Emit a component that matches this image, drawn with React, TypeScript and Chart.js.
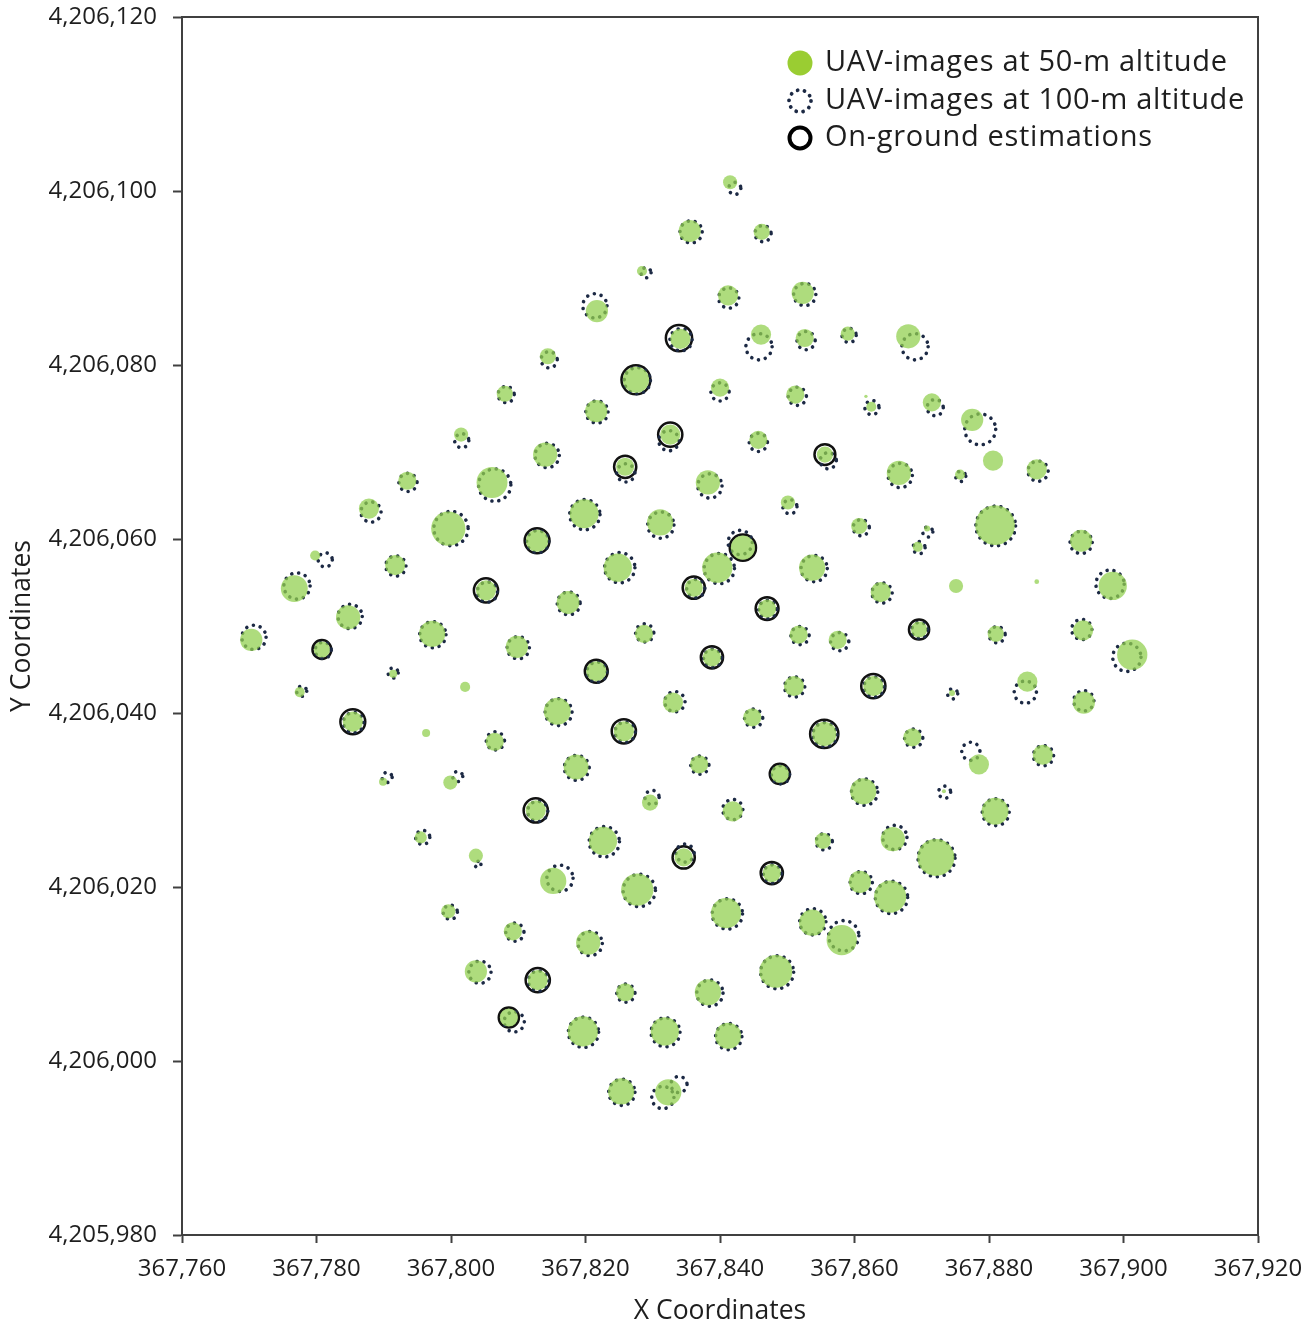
import { useEffect, useRef } from "react";
import { Chart, registerables } from "chart.js";

Chart.register(...registerables);

// Axis ranges and tick spacing
const xRange = [367760, 367920];
const yRange = [4205980, 4206120];
const tickStep = 20;

const seriesNames = [
  "UAV-images at 50-m altitude",
  "UAV-images at 100-m altitude",
  "On-ground estimations",
];

// Crown centres (UTM metres) and crown diameters (m), UAV flight at 50 m
const uav50X = [
  367841.5, 367835.5, 367846.2, 367828.4, 367821.7, 367841.2, 367852.3, 367834.1, 367846.1, 367852.6,
  367859.0, 367868.0, 367814.4, 367827.5, 367808.0, 367840.0, 367851.2, 367861.7, 367862.5, 367871.5,
  367877.5, 367821.6, 367832.6, 367845.7, 367801.5, 367814.0, 367825.9, 367855.6, 367880.6, 367866.6,
  367793.5, 367875.7, 367887.1, 367838.2, 367806.1, 367787.8, 367799.6, 367819.8, 367831.1, 367812.8,
  367824.8, 367779.8, 367791.7, 367776.7, 367805.2, 367817.4, 367836.1, 367784.7, 367770.3, 367797.2,
  367828.7, 367850.1, 367860.7, 367870.8, 367869.4, 367880.9, 367893.7, 367843.4, 367839.6, 367853.7,
  367863.9, 367875.1, 367887.1, 367898.4, 367847.0, 367869.6, 367851.7, 367857.5, 367881.0, 367894.0,
  367780.8, 367809.8, 367791.4, 367777.5, 367802.1, 367821.6, 367785.4, 367796.3, 367815.8, 367806.5,
  367825.7, 367833.0, 367818.6, 367836.9, 367789.9, 367799.9, 367812.6, 367829.6, 367795.5, 367822.6,
  367834.6, 367803.7, 367815.2, 367827.7, 367799.6, 367809.2, 367820.4, 367825.9, 367803.7, 367812.9,
  367838.2, 367808.6, 367819.6, 367831.8, 367825.3, 367832.3, 367901.3, 367838.8, 367851.0, 367862.8,
  367874.5, 367885.7, 367894.1, 367844.8, 367855.5, 367868.6, 367878.5, 367888.0, 367848.9, 367861.3,
  367873.3, 367880.9, 367841.9, 367855.3, 367865.7, 367872.1, 367847.7, 367860.8, 367865.3, 367840.9,
  367853.7, 367858.1, 367848.3, 367841.2,
];
const uav50Y = [
  4206101.0, 4206095.4, 4206095.3, 4206090.8, 4206086.2, 4206088.0, 4206088.3, 4206083.0, 4206083.5, 4206083.1,
  4206083.6, 4206083.3, 4206081.0, 4206078.3, 4206076.7, 4206077.4, 4206076.6, 4206076.4, 4206075.2, 4206075.7,
  4206073.7, 4206074.7, 4206072.0, 4206071.4, 4206072.0, 4206069.7, 4206068.3, 4206069.7, 4206069.0, 4206067.6,
  4206066.7, 4206067.4, 4206068.0, 4206066.5, 4206066.5, 4206063.5, 4206061.2, 4206062.9, 4206061.9, 4206059.8,
  4206056.7, 4206058.1, 4206057.0, 4206054.3, 4206054.1, 4206052.7, 4206054.4, 4206051.0, 4206048.4, 4206049.1,
  4206049.1, 4206064.2, 4206061.5, 4206061.2, 4206059.1, 4206061.6, 4206059.8, 4206059.0, 4206056.7, 4206056.7,
  4206053.9, 4206054.6, 4206055.1, 4206054.6, 4206052.0, 4206049.6, 4206049.0, 4206048.4, 4206049.1, 4206049.5,
  4206047.3, 4206047.6, 4206044.5, 4206042.4, 4206043.0, 4206044.8, 4206039.0, 4206037.7, 4206040.2, 4206036.7,
  4206037.9, 4206041.2, 4206033.8, 4206034.1, 4206032.1, 4206032.0, 4206028.8, 4206029.7, 4206025.7, 4206025.3,
  4206023.4, 4206023.6, 4206020.7, 4206019.7, 4206017.2, 4206014.9, 4206013.6, 4206007.9, 4206010.3, 4206009.3,
  4206007.9, 4206005.0, 4206003.4, 4206003.4, 4205996.5, 4205996.4, 4206046.7, 4206046.4, 4206043.1, 4206043.1,
  4206042.3, 4206043.6, 4206041.2, 4206039.5, 4206037.6, 4206037.2, 4206034.1, 4206035.2, 4206033.0, 4206031.0,
  4206031.0, 4206028.7, 4206028.7, 4206025.3, 4206025.5, 4206023.4, 4206021.6, 4206020.6, 4206018.9, 4206017.0,
  4206015.9, 4206013.9, 4206010.3, 4206002.9,
];
const uav50D = [
  2.1, 3.3, 2.4, 1.5, 3.3, 3.0, 3.3, 3.0, 3.0, 2.7,
  2.1, 3.6, 2.4, 3.9, 2.4, 2.7, 2.7, 0.5, 1.5, 2.7,
  3.3, 3.3, 3.0, 2.7, 2.1, 3.6, 2.7, 2.4, 3.0, 3.6,
  2.7, 1.5, 3.0, 3.6, 4.6, 3.0, 5.1, 4.3, 3.9, 3.3,
  4.2, 1.5, 3.0, 4.0, 3.0, 3.4, 2.7, 3.6, 3.3, 3.9,
  2.7, 2.1, 2.4, 0.9, 1.5, 5.9, 3.3, 3.6, 4.5, 3.9,
  3.0, 2.1, 0.7, 4.2, 2.7, 2.4, 2.7, 2.7, 2.4, 3.0,
  2.4, 3.3, 1.2, 1.5, 1.5, 3.0, 3.0, 1.2, 4.0, 2.7,
  3.0, 3.0, 3.7, 2.7, 1.2, 2.1, 3.0, 2.4, 1.8, 4.2,
  2.7, 2.1, 3.9, 4.8, 2.1, 2.7, 3.6, 2.7, 3.3, 3.0,
  3.9, 2.7, 4.5, 4.2, 3.9, 3.9, 4.5, 2.7, 3.0, 3.0,
  0.9, 3.0, 3.3, 2.7, 3.6, 2.7, 3.0, 3.0, 2.7, 3.9,
  0.6, 4.0, 3.0, 2.4, 3.6, 5.5, 2.7, 3.3, 4.8, 4.5,
  3.9, 4.5, 4.9, 3.9,
];

// Crown centres and diameters, UAV flight at 100 m
const uav100X = [
  367842.2, 367835.7, 367846.4, 367829.0, 367821.4, 367841.3, 367852.6, 367834.2, 367845.8, 367852.8,
  367859.2, 367869.0, 367814.6, 367827.7, 367808.2, 367840.0, 367851.5, 367862.6, 367872.0, 367878.7,
  367821.7, 367832.4, 367845.7, 367801.6, 367814.3, 367826.0, 367856.1, 367866.8, 367793.6, 367875.8,
  367887.3, 367838.5, 367806.5, 367788.1, 367800.0, 367819.9, 367831.2, 367812.9, 367825.1, 367781.3,
  367791.8, 367777.1, 367805.4, 367817.5, 367836.4, 367785.0, 367770.7, 367797.3, 367828.8, 367850.4,
  367861.0, 367870.9, 367869.6, 367881.0, 367893.7, 367843.0, 367839.9, 367854.0, 367864.1, 367898.0,
  367847.1, 367869.7, 367851.9, 367857.8, 367881.2, 367893.8, 367781.0, 367810.0, 367791.4, 367777.8,
  367821.7, 367785.5, 367816.0, 367806.6, 367825.9, 367833.3, 367818.7, 367837.0, 367790.5, 367801.0,
  367812.9, 367829.9, 367795.8, 367822.8, 367834.8, 367804.0, 367816.2, 367828.0, 367799.9, 367809.5,
  367820.7, 367826.0, 367804.3, 367813.0, 367838.5, 367809.4, 367819.7, 367831.9, 367825.4, 367831.5,
  367833.9, 367900.5, 367838.9, 367851.1, 367862.9, 367874.6, 367885.4, 367894.1, 367845.0, 367855.6,
  367868.8, 367877.3, 367888.1, 367849.0, 367861.5, 367873.4, 367881.0, 367841.9, 367855.5, 367866.0,
  367872.2, 367847.8, 367861.0, 367865.5, 367841.1, 367853.8, 367858.4, 367848.5, 367841.3,
];
const uav100Y = [
  4206100.3, 4206095.3, 4206095.1, 4206090.6, 4206086.8, 4206087.7, 4206088.1, 4206082.9, 4206082.1, 4206082.8,
  4206083.4, 4206082.1, 4206080.6, 4206078.2, 4206076.6, 4206076.9, 4206076.4, 4206075.1, 4206075.1, 4206072.6,
  4206074.6, 4206071.3, 4206071.1, 4206071.3, 4206069.6, 4206067.6, 4206069.0, 4206067.3, 4206066.5, 4206067.2,
  4206067.8, 4206066.1, 4206066.2, 4206063.1, 4206061.2, 4206062.8, 4206061.6, 4206059.7, 4206056.7, 4206057.6,
  4206056.9, 4206054.6, 4206053.9, 4206052.6, 4206054.3, 4206051.1, 4206048.7, 4206049.0, 4206049.2, 4206063.7,
  4206061.3, 4206060.8, 4206059.0, 4206061.5, 4206059.6, 4206059.6, 4206056.6, 4206056.6, 4206053.8, 4206054.8,
  4206051.9, 4206049.5, 4206048.9, 4206048.2, 4206049.0, 4206049.6, 4206047.2, 4206047.5, 4206044.6, 4206042.5,
  4206044.7, 4206038.9, 4206040.1, 4206036.8, 4206037.8, 4206041.3, 4206033.7, 4206034.0, 4206032.6, 4206032.7,
  4206028.7, 4206030.3, 4206025.7, 4206025.2, 4206023.9, 4206022.6, 4206021.0, 4206019.6, 4206017.1, 4206014.8,
  4206013.5, 4206007.8, 4206010.2, 4206009.2, 4206007.8, 4206004.5, 4206003.3, 4206003.3, 4205996.4, 4205995.8,
  4205997.3, 4206046.4, 4206046.3, 4206043.0, 4206043.0, 4206042.2, 4206042.4, 4206041.4, 4206039.4, 4206037.5,
  4206037.1, 4206035.6, 4206035.1, 4206032.9, 4206030.9, 4206030.9, 4206028.6, 4206028.9, 4206025.2, 4206025.7,
  4206023.3, 4206021.5, 4206020.5, 4206018.8, 4206016.9, 4206016.0, 4206014.4, 4206010.2, 4206002.8,
];
const uav100D = [
  1.8, 3.3, 2.4, 1.5, 3.6, 3.0, 3.3, 3.3, 3.9, 2.7,
  2.1, 3.9, 2.4, 3.9, 2.4, 2.7, 2.7, 2.1, 2.4, 4.6,
  3.3, 3.0, 2.7, 2.1, 3.6, 2.7, 2.4, 3.6, 2.7, 1.5,
  3.0, 3.6, 4.8, 3.0, 5.1, 4.5, 3.9, 3.3, 4.5, 2.1,
  3.0, 3.9, 3.0, 3.4, 2.7, 3.6, 3.6, 3.9, 2.7, 2.1,
  2.4, 1.5, 1.8, 5.9, 3.3, 3.6, 4.5, 3.9, 3.0, 4.2,
  2.7, 2.4, 2.7, 2.7, 2.4, 3.0, 2.4, 3.3, 1.5, 1.5,
  3.0, 3.0, 4.0, 2.7, 3.0, 3.0, 3.7, 2.7, 1.5, 1.5,
  3.0, 2.1, 2.1, 4.5, 2.7, 0.9, 3.9, 4.8, 2.1, 2.7,
  3.6, 2.7, 3.3, 3.0, 3.9, 3.0, 4.5, 4.3, 3.9, 3.3,
  2.4, 4.2, 2.7, 3.0, 3.0, 1.5, 3.3, 3.0, 2.7, 3.6,
  2.7, 2.7, 3.0, 2.7, 3.9, 1.8, 4.0, 3.0, 2.4, 3.6,
  5.5, 2.7, 3.3, 4.8, 4.5, 3.9, 4.5, 4.9, 3.9,
];

// Crowns measured on the ground
const groundX = [
  367833.9, 367827.5, 367832.6, 367825.9, 367855.6, 367812.8, 367805.2, 367836.1, 367843.4, 367847.0,
  367869.6, 367780.8, 367821.6, 367785.4, 367825.7, 367812.6, 367834.6, 367812.9, 367808.6, 367838.8,
  367862.8, 367855.5, 367848.9, 367847.7,
];
const groundY = [
  4206083.1, 4206078.3, 4206072.0, 4206068.3, 4206069.7, 4206059.8, 4206054.1, 4206054.4, 4206059.0, 4206052.0,
  4206049.6, 4206047.3, 4206044.8, 4206039.0, 4206037.9, 4206028.8, 4206023.4, 4206009.3, 4206005.0, 4206046.4,
  4206043.1, 4206037.6, 4206033.0, 4206021.6,
];
const groundD = [
  3.9, 4.3, 3.6, 3.3, 3.1, 3.7, 3.6, 3.3, 3.9, 3.4,
  3.0, 2.8, 3.4, 3.7, 3.6, 3.6, 3.3, 3.6, 3.0, 3.3,
  3.6, 4.2, 3.0, 3.3,
];

const GREEN_FILL = "rgba(146, 208, 80, 0.74)";
const GREEN_KEY = "#9acd32";
const NAVY = "#1c2944";
const RING = "#111111";
const AXIS = "#404040";
const TEXT = "#1e1e1e";
const FONT = '"Open Sans", sans-serif';

type Crown = { x: number; y: number; d: number };

const toCrowns = (xs: number[], ys: number[], ds: number[]): Crown[] =>
  xs.map((x, i) => ({ x, y: ys[i], d: ds[i] }));

// pixel radius of a crown: half its diameter measured on the x scale
const crownRadius = (ctx: any) => {
  const raw = ctx.raw as Crown | undefined;
  const xs = ctx.chart.scales.x;
  if (!raw || !xs) return 0;
  return Math.abs(xs.getPixelForValue(raw.x + raw.d / 2) - xs.getPixelForValue(raw.x));
};

const fmt = (v: number | string) => Number(v).toLocaleString("en-US");

// draws the 100 m crowns as rings of dots
const dottedRings = {
  id: "dottedRings",
  beforeDatasetDraw(chart: any, args: any) {
    if (chart.data.datasets[args.index].dotted) {
      const ctx = chart.ctx;
      ctx.save();
      ctx.setLineDash([0.01, 7]);
      ctx.lineCap = "round";
    }
  },
  afterDatasetDraw(chart: any, args: any) {
    if (chart.data.datasets[args.index].dotted) chart.ctx.restore();
  },
};

// closes the plot frame on the top and right
const frame = {
  id: "frame",
  beforeDatasetsDraw(chart: any) {
    const { ctx, chartArea: a } = chart;
    ctx.save();
    ctx.strokeStyle = AXIS;
    ctx.lineWidth = 2;
    ctx.beginPath();
    ctx.moveTo(a.left, a.top);
    ctx.lineTo(a.right, a.top);
    ctx.lineTo(a.right, a.bottom);
    ctx.stroke();
    ctx.restore();
  },
};

// key in the upper right corner of the plot
const key = {
  id: "key",
  afterDraw(chart: any) {
    const { ctx, chartArea: a } = chart;
    const sx = a.right - 458;
    const rows = [a.top + 46, a.top + 84, a.top + 121];
    ctx.save();
    // 50 m
    ctx.fillStyle = GREEN_KEY;
    ctx.beginPath();
    ctx.arc(sx, rows[0], 12.5, 0, Math.PI * 2);
    ctx.fill();
    // 100 m
    ctx.save();
    ctx.strokeStyle = NAVY;
    ctx.lineWidth = 3.8;
    ctx.lineCap = "round";
    ctx.setLineDash([0.01, 7]);
    ctx.beginPath();
    ctx.arc(sx, rows[1], 11, 0, Math.PI * 2);
    ctx.stroke();
    ctx.restore();
    // ground
    ctx.strokeStyle = "#000";
    ctx.lineWidth = 4;
    ctx.beginPath();
    ctx.arc(sx, rows[2], 10.5, 0, Math.PI * 2);
    ctx.stroke();
    ctx.fillStyle = TEXT;
    ctx.font = `29px ${FONT}`;
    (ctx as any).letterSpacing = "0.7px";
    ctx.textBaseline = "middle";
    ctx.textAlign = "left";
    seriesNames.forEach((name, i) => ctx.fillText(name, sx + 25, rows[i]));
    ctx.restore();
  },
};

export default function App() {
  const ref = useRef<HTMLCanvasElement>(null);

  useEffect(() => {
    if (!ref.current) return;
    Chart.defaults.font.family = FONT;
    const tickFont = { size: 24, family: FONT };
    const titleFont = { size: 26.5, family: FONT };

    const chart = new Chart(ref.current, {
      type: "scatter",
      data: {
        datasets: [
          {
            label: seriesNames[0],
            data: toCrowns(uav50X, uav50Y, uav50D),
            backgroundColor: GREEN_FILL,
            borderWidth: 0,
            pointRadius: crownRadius,
            pointHoverRadius: crownRadius,
          },
          {
            label: seriesNames[1],
            data: toCrowns(uav100X, uav100Y, uav100D),
            backgroundColor: "rgba(0,0,0,0)",
            borderColor: NAVY,
            borderWidth: 3.6,
            pointRadius: crownRadius,
            pointHoverRadius: crownRadius,
            dotted: true,
          } as any,
          {
            label: seriesNames[2],
            data: toCrowns(groundX, groundY, groundD),
            backgroundColor: "rgba(0,0,0,0)",
            borderColor: RING,
            borderWidth: 2.5,
            pointRadius: crownRadius,
            pointHoverRadius: crownRadius,
          },
        ],
      },
      options: {
        animation: false,
        responsive: false,
        events: [],
        layout: { padding: { top: 17, right: 51, left: 0, bottom: 0 } },
        plugins: { legend: { display: false }, tooltip: { enabled: false } },
        scales: {
          x: {
            type: "linear",
            min: xRange[0],
            max: xRange[1],
            afterFit: (s: any) => {
              s.height = 92;
              s.paddingLeft = 0;
              s.paddingRight = 0;
            },
            ticks: {
              stepSize: tickStep,
              padding: 12,
              font: tickFont,
              color: TEXT,
              maxRotation: 0,
              autoSkip: false,
              callback: fmt,
            },
            grid: { drawOnChartArea: false, tickLength: 8, tickWidth: 2, tickColor: AXIS },
            border: { color: AXIS, width: 2 },
            title: {
              display: true,
              text: "X Coordinates",
              font: titleFont,
              color: TEXT,
              padding: { top: 0, bottom: 0 },
            },
          },
          y: {
            type: "linear",
            min: yRange[0],
            max: yRange[1],
            afterFit: (s: any) => {
              s.width = 182;
              s.paddingTop = 0;
              s.paddingBottom = 0;
            },
            ticks: {
              stepSize: tickStep,
              padding: 16,
              font: tickFont,
              color: TEXT,
              autoSkip: false,
              callback: fmt,
            },
            grid: { drawOnChartArea: false, tickLength: 9, tickWidth: 2, tickColor: AXIS },
            border: { color: AXIS, width: 2 },
            title: {
              display: true,
              text: "Y Coordinates",
              font: titleFont,
              color: TEXT,
              padding: { top: 7, bottom: 0 },
            },
          },
        },
      } as any,
      plugins: [dottedRings, frame, key],
    });

    return () => chart.destroy();
  }, []);

  return (
    <div style={{ position: "absolute", left: 0, top: 0, width: 1309, height: 1327, background: "#fff" }}>
      <canvas ref={ref} width={1309} height={1327} style={{ display: "block" }} />
    </div>
  );
}
